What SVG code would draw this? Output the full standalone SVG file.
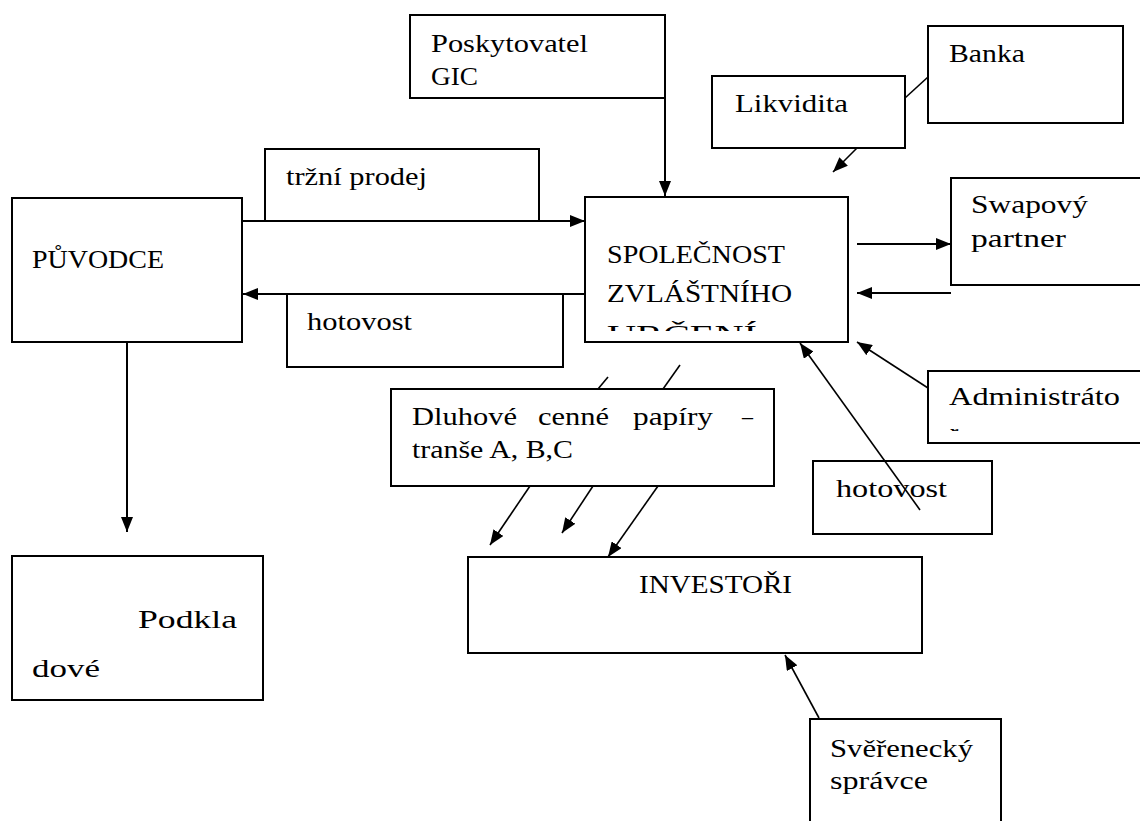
<svg xmlns="http://www.w3.org/2000/svg" width="1140" height="821" viewBox="0 0 1140 821">
<style>
.box{fill:#fff;stroke:#000;stroke-width:2}
.t{font-family:"Liberation Serif","Times New Roman",serif;font-size:25px;fill:#000}
.c{fill:none;stroke:#000;stroke-width:2}
.d{fill:none;stroke:#000;stroke-width:1.6}
</style>
<defs>
<marker id="ah" viewBox="0 0 15 12" refX="15" refY="6" markerWidth="15" markerHeight="12" markerUnits="userSpaceOnUse" orient="auto"><path d="M0,0 L15,6 L0,12 z" fill="#000"/></marker>
<clipPath id="clipSpv"><rect x="586" y="198" width="261" height="133"/></clipPath>
<clipPath id="clipAdm"><rect x="929" y="372" width="215" height="59"/></clipPath>
</defs>
<rect width="1140" height="821" fill="#fff"/>

<g id="puvodce"><rect class="box" x="12" y="198" width="230" height="144"/><text class="t" x="32" y="268" textLength="132" lengthAdjust="spacingAndGlyphs">PŮVODCE</text></g>
<g id="trzni-prodej"><rect class="box" x="265" y="149" width="274" height="72"/><text class="t" x="286" y="185" textLength="141" lengthAdjust="spacingAndGlyphs">tržní prodej</text></g>
<g id="hotovost-1"><rect class="box" x="287" y="294" width="276" height="73"/><text class="t" x="307" y="330" textLength="105" lengthAdjust="spacingAndGlyphs">hotovost</text></g>
<g id="poskytovatel"><rect class="box" x="410" y="15" width="255" height="83"/><text class="t" x="431" y="52" textLength="157" lengthAdjust="spacingAndGlyphs">Poskytovatel</text><text class="t" x="431" y="85" textLength="47" lengthAdjust="spacingAndGlyphs">GIC</text></g>
<g id="spolecnost"><rect class="box" x="585" y="197" width="263" height="145"/><text class="t" x="607" y="263" textLength="178" lengthAdjust="spacingAndGlyphs">SPOLEČNOST</text><text class="t" x="607" y="302" textLength="185" lengthAdjust="spacingAndGlyphs">ZVLÁŠTNÍHO</text><text class="t" x="607" y="343" textLength="150" lengthAdjust="spacingAndGlyphs" clip-path="url(#clipSpv)">URČENÍ</text></g>
<g id="likvidita"><rect class="box" x="712" y="76" width="193" height="72"/><text class="t" x="735" y="112" textLength="113" lengthAdjust="spacingAndGlyphs">Likvidita</text></g>
<g id="banka"><rect class="box" x="928" y="26" width="195" height="97"/><text class="t" x="949" y="62" textLength="76" lengthAdjust="spacingAndGlyphs">Banka</text></g>
<g id="swapovy"><rect class="box" x="951" y="178" width="200" height="107"/><text class="t" x="971" y="213" textLength="117" lengthAdjust="spacingAndGlyphs">Swapový</text><text class="t" x="971" y="247" textLength="95" lengthAdjust="spacingAndGlyphs">partner</text></g>
<g id="administrator"><rect class="box" x="928" y="371" width="220" height="72"/><text class="t" x="949" y="405" textLength="171" lengthAdjust="spacingAndGlyphs">Administráto</text><text class="t" x="950" y="441" clip-path="url(#clipAdm)">r</text></g>
<g id="dluhove"><rect class="box" x="391" y="389" width="383" height="97"/><text class="t" x="412" y="425" textLength="105" lengthAdjust="spacingAndGlyphs">Dluhové</text><text class="t" x="538" y="425" textLength="71" lengthAdjust="spacingAndGlyphs">cenné</text><text class="t" x="633" y="425" textLength="80" lengthAdjust="spacingAndGlyphs">papíry</text><text class="t" x="742" y="425" textLength="11" lengthAdjust="spacingAndGlyphs">–</text><text class="t" x="412" y="458" textLength="161" lengthAdjust="spacingAndGlyphs">tranše A, B,C</text></g>
<g id="hotovost-2"><rect class="box" x="813" y="461" width="179" height="73"/><text class="t" x="836" y="497" textLength="111" lengthAdjust="spacingAndGlyphs">hotovost</text></g>
<g id="investori"><rect class="box" x="468" y="557" width="454" height="96"/><text class="t" x="639" y="593" textLength="153" lengthAdjust="spacingAndGlyphs">INVESTOŘI</text></g>
<g id="podkladove"><rect class="box" x="12" y="556" width="251" height="144"/><text class="t" x="138" y="628" textLength="99" lengthAdjust="spacingAndGlyphs">Podkla</text><text class="t" x="32" y="677" textLength="68" lengthAdjust="spacingAndGlyphs">dové</text></g>
<g id="sverenecky"><rect class="box" x="810" y="719" width="191" height="110"/><text class="t" x="830" y="757" textLength="143" lengthAdjust="spacingAndGlyphs">Svěřenecký</text><text class="t" x="830" y="789" textLength="98" lengthAdjust="spacingAndGlyphs">správce</text></g>

<g id="connectors">
<line class="c" x1="242" y1="221" x2="585" y2="221" marker-end="url(#ah)"/>
<line class="c" x1="585" y1="294" x2="243" y2="294" marker-end="url(#ah)"/>
<line class="c" x1="127" y1="342" x2="127" y2="532" marker-end="url(#ah)"/>
<line class="c" x1="665" y1="98" x2="665" y2="196" marker-end="url(#ah)"/>
<line class="d" x1="905" y1="98" x2="928" y2="77"/>
<line class="d" x1="857" y1="148" x2="833" y2="172" marker-end="url(#ah)"/>
<line class="c" x1="857" y1="244" x2="951" y2="244" marker-end="url(#ah)"/>
<line class="c" x1="951" y1="293" x2="857" y2="293" marker-end="url(#ah)"/>
<line class="d" x1="928" y1="388" x2="857" y2="342" marker-end="url(#ah)"/>
<line class="d" x1="920" y1="510" x2="800" y2="343" marker-end="url(#ah)"/>
<line class="d" x1="608" y1="377" x2="598" y2="389"/>
<line class="d" x1="680" y1="365" x2="663" y2="389"/>
<line class="d" x1="530" y1="486" x2="490" y2="545" marker-end="url(#ah)"/>
<line class="d" x1="593" y1="486" x2="562" y2="533" marker-end="url(#ah)"/>
<line class="d" x1="658" y1="486" x2="608" y2="557" marker-end="url(#ah)"/>
<line class="d" x1="819" y1="718" x2="785" y2="655" marker-end="url(#ah)"/>
</g>
</svg>
